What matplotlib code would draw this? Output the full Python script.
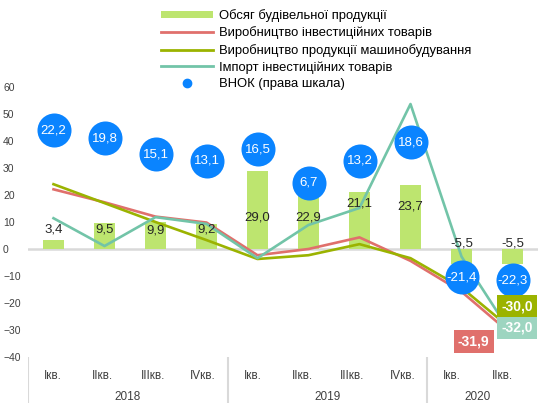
import matplotlib
matplotlib.use('Agg')
import matplotlib.pyplot as plt
from matplotlib.lines import Line2D
from matplotlib.patches import Patch

plt.rcParams['font.family'] = ['Liberation Sans', 'DejaVu Sans']

# дані
quarters = ['Ікв.', 'ІІкв.', 'ІІІкв.', 'IVкв.', 'Ікв.', 'ІІкв.', 'ІІІкв.', 'IVкв.', 'Ікв.', 'ІІкв.']
years = ['2018', '2019', '2020']
construction = [3.4, 9.5, 9.9, 9.2, 29.0, 22.9, 21.1, 23.7, -5.5, -5.5]
invest_goods = [22.1, 17.3, 12.0, 9.8, -2.3, 0.0, 4.3, -4.4, -15.8, -31.9]
machinery = [24.0, 17.0, 10.0, 3.3, -3.7, -2.3, 1.8, -3.4, -14.3, -30.0]
import_goods = [11.4, 1.1, 11.8, 9.3, -3.4, 8.9, 15.2, 53.7, -2.8, -32.0]
vnok = [22.2, 19.8, 15.1, 13.1, 16.5, 6.7, 13.2, 18.6, -21.4, -22.3]

# висота підписів стовпців (ліва шкала)
bar_label_y = [7.2, 7.2, 7.0, 7.2, 11.5, 11.8, 17.0, 15.9, 2.2, 2.2]

c_bar = '#BDE56F'
c_red = '#E0706C'
c_olive = '#9BB300'
c_teal = '#72C4A8'
c_teal_box = '#9DD5C0'
c_blue = '#0A84FF'


def fmt(v):
    return f'{v:.1f}'.replace('.', ',')


W, H = 538, 403
fig = plt.figure(figsize=(W / 100, H / 100), dpi=100)

ax = fig.add_axes([28 / W, 1 - 357 / H, 510 / W, 270 / H])
x = list(range(len(quarters)))

ax.bar(x, construction, width=0.4, color=c_bar, zorder=2)
ax.axhline(0, color='#D9D9D9', lw=1.8, zorder=1)
ax.plot(x, invest_goods, color=c_red, lw=1.9, zorder=3)
ax.plot(x, machinery, color=c_olive, lw=1.9, zorder=3)
ax.plot(x, import_goods, color=c_teal, lw=1.9, zorder=3)

for xi, v, yl in zip(x, construction, bar_label_y):
    ax.text(xi, yl, fmt(v), ha='center', va='center', fontsize=9.5,
            color='#262626', zorder=4)

ax.set_xlim(-0.5, 9.5)
ax.set_ylim(-40, 60)
ax.set_yticks(range(-40, 61, 10))
ax.set_xticks([])
ax.tick_params(axis='y', length=0, pad=18, labelsize=7.5, labelcolor='#404040')
for lbl in ax.get_yticklabels():
    lbl.set_ha('left')
for s in ax.spines.values():
    s.set_visible(False)

# права шкала
ax2 = ax.twinx()
ax2.set_ylim(-45, 35)
ax2.plot(x, vnok, 'o', color=c_blue, markersize=24.5, markeredgewidth=0, zorder=5)
for xi, v in zip(x, vnok):
    ax2.text(xi, v, fmt(v), ha='center', va='center', fontsize=9.5,
             color='white', zorder=6)
ax2.set_yticks([])
for s in ax2.spines.values():
    s.set_visible(False)

# підписи останніх значень
last = len(x) - 1
for val, col, off in [(invest_goods[last], c_red, (-28, -4.5)),
                      (machinery[last], c_olive, (3.2, 17)),
                      (import_goods[last], c_teal_box, (3.2, 5.4))]:
    ax2.annotate(fmt(val), xy=(last, val), xycoords=ax.transData,
                 xytext=off, textcoords='offset points', ha='center', va='center',
                 fontsize=10, fontweight='bold', color='white', zorder=7,
                 bbox=dict(boxstyle='square,pad=0.3', fc=col, ec='none'))

# вісь категорій
axl = fig.add_axes([28 / W, 0, 499 / W, 1 - 357 / H])
axl.set_xlim(-0.5, 9.5)
axl.set_ylim(0, 1)
axl.axis('off')
for xi, q in zip(x, quarters):
    axl.text(xi, 0.58, q, ha='center', va='center', fontsize=8.5, color='#404040')
for i, yr in enumerate(years):
    axl.text([1.5, 5.5, 8.5][i], 0.12, yr, ha='center', va='center',
             fontsize=8.5, color='#404040')
axl.vlines([-0.5, 3.5, 7.5], 0, 1, color='#D9D9D9', lw=1.5)

handles = [
    Patch(facecolor=c_bar, edgecolor='none'),
    Line2D([], [], color=c_red, lw=2),
    Line2D([], [], color=c_olive, lw=2),
    Line2D([], [], color=c_teal, lw=2),
    Line2D([], [], ls='none', marker='o', color=c_blue, markersize=6),
]
labels = ['Обсяг будівельної продукції', 'Виробництво інвестиційних товарів',
          'Виробництво продукції машинобудування', 'Імпорт інвестиційних товарів',
          'ВНОК (права шкала)']
fig.legend(handles, labels, loc='upper left', bbox_to_anchor=(161 / W, 1 - 9 / H),
           frameon=False, fontsize=9.4, handlelength=4.0, handleheight=0.5,
           handletextpad=0.45, labelspacing=0.34, borderpad=0, borderaxespad=0)

fig.savefig('out.png', dpi=100)
